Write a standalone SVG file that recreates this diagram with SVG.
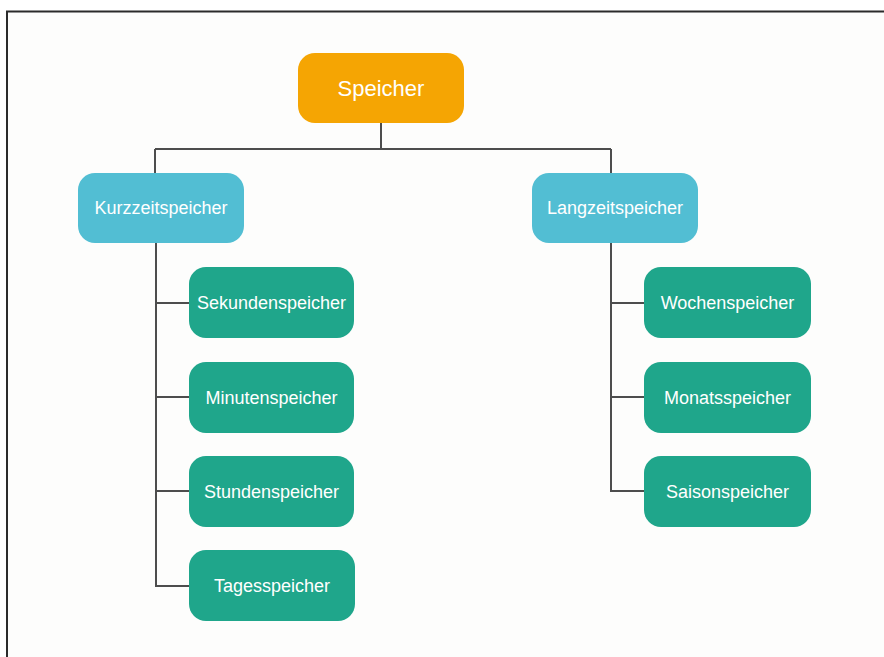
<svg xmlns="http://www.w3.org/2000/svg" width="884" height="657" viewBox="0 0 884 657">
  <style>
    .box { stroke: none; }
    .root { fill: #F5A503; }
    .mid { fill: #52BED3; }
    .leaf { fill: #1FA68B; }
    .lbl { font-family: "Liberation Sans", Arial, sans-serif; fill: #ffffff; text-anchor: middle; }
    .lbl18 { font-size: 18px; }
    .lbl22 { font-size: 22px; }
    .wire { fill: none; stroke: #4d4d4d; stroke-width: 2; }
  </style>

  <!-- page background and frame -->
  <rect x="0" y="0" width="884" height="657" fill="#ffffff"/>
  <rect x="7" y="11.5" width="877" height="645.5" fill="#fdfdfc"/>
  <path d="M7,657 V11.5 H884" fill="none" stroke="#2b2b2b" stroke-width="2"/>

  <!-- connectors -->
  <g id="connectors" class="wire">
    <path d="M381,123 V149"/>
    <path d="M155,149 H611"/>
    <path d="M155,149 V173"/>
    <path d="M611,149 V173"/>
    <path d="M156,243 V586 H189"/>
    <path d="M156,303 H189"/>
    <path d="M156,397 H189"/>
    <path d="M156,491 H189"/>
    <path d="M611,243 V491 H644"/>
    <path d="M611,303 H644"/>
    <path d="M611,397 H644"/>
  </g>

  <!-- root -->
  <g id="speicher">
    <rect class="box root" x="298" y="53" width="166" height="70" rx="17"/>
    <text class="lbl lbl22" x="381" y="96">Speicher</text>
  </g>

  <!-- second level -->
  <g id="kurzzeitspeicher">
    <rect class="box mid" x="78" y="173" width="166" height="70" rx="17"/>
    <text class="lbl lbl18" x="161" y="214">Kurzzeitspeicher</text>
  </g>
  <g id="langzeitspeicher">
    <rect class="box mid" x="532" y="173" width="166" height="70" rx="17"/>
    <text class="lbl lbl18" x="615" y="214">Langzeitspeicher</text>
  </g>

  <!-- short-term leaves -->
  <g id="sekundenspeicher">
    <rect class="box leaf" x="189" y="267" width="165" height="71" rx="17"/>
    <text class="lbl lbl18" x="271.5" y="309">Sekundenspeicher</text>
  </g>
  <g id="minutenspeicher">
    <rect class="box leaf" x="189" y="362" width="165" height="71" rx="17"/>
    <text class="lbl lbl18" x="271.5" y="404">Minutenspeicher</text>
  </g>
  <g id="stundenspeicher">
    <rect class="box leaf" x="189" y="456" width="165" height="71" rx="17"/>
    <text class="lbl lbl18" x="271.5" y="498">Stundenspeicher</text>
  </g>
  <g id="tagesspeicher">
    <rect class="box leaf" x="189" y="550" width="166" height="71" rx="17"/>
    <text class="lbl lbl18" x="272" y="592">Tagesspeicher</text>
  </g>

  <!-- long-term leaves -->
  <g id="wochenspeicher">
    <rect class="box leaf" x="644" y="267" width="167" height="71" rx="17"/>
    <text class="lbl lbl18" x="727.5" y="309">Wochenspeicher</text>
  </g>
  <g id="monatsspeicher">
    <rect class="box leaf" x="644" y="362" width="167" height="71" rx="17"/>
    <text class="lbl lbl18" x="727.5" y="404">Monatsspeicher</text>
  </g>
  <g id="saisonspeicher">
    <rect class="box leaf" x="644" y="456" width="167" height="71" rx="17"/>
    <text class="lbl lbl18" x="727.5" y="498">Saisonspeicher</text>
  </g>
</svg>
